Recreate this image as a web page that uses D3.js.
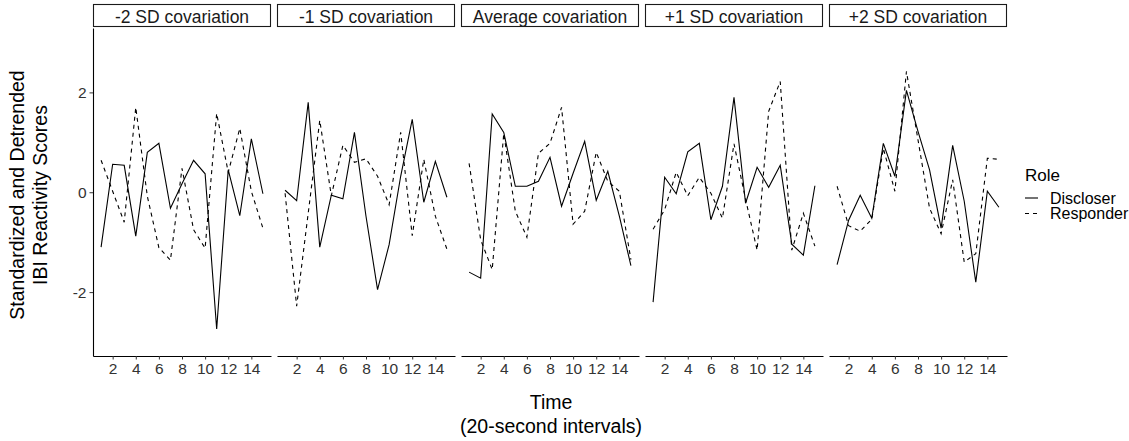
<!DOCTYPE html>
<html>
<head>
<meta charset="utf-8">
<script src="https://cdn.jsdelivr.net/npm/d3@7"></script>
<style>
  body { margin: 0; background: #fff; }
  svg { font-family: "Liberation Sans", Arial, sans-serif; }
</style>
</head>
<body>
<div id="wrapper"></div>
<script>
const panels = ["-2 SD covariation", "-1 SD covariation", "Average covariation", "+1 SD covariation", "+2 SD covariation"];
const times = d3.range(1, 16);
const roles = ["Discloser", "Responder"];

const discloser = [
  [-1.10, 0.56, 0.54, -0.88, 0.80, 0.98, -0.32, 0.17, 0.64, 0.37, -2.74, 0.45, -0.47, 1.07, -0.03],
  [0.04, -0.17, 1.80, -1.10, -0.06, -0.13, 1.20, -0.48, -1.95, -1.05, 0.32, 1.46, -0.20, 0.62, -0.10],
  [-1.60, -1.72, 1.57, 1.20, 0.12, 0.12, 0.22, 0.70, -0.28, 0.38, 1.02, -0.16, 0.42, -0.48, -1.47],
  [-2.20, 0.30, -0.03, 0.81, 0.98, -0.55, 0.12, 1.90, -0.22, 0.50, 0.10, 0.54, -1.04, -1.26, 0.13],
  [-1.45, -0.56, -0.06, -0.52, 0.98, 0.32, 2.04, 1.22, 0.45, -0.72, 0.94, -0.18, -1.80, 0.02, -0.30],
];
const responder = [
  [0.64, 0.02, -0.60, 1.70, -0.08, -1.11, -1.36, 0.48, -0.75, -1.12, 1.58, 0.40, 1.28, 0.02, -0.72],
  [-0.02, -2.28, -0.42, 1.44, -0.07, 0.94, 0.60, 0.67, 0.32, -0.25, 1.20, -0.87, 0.66, -0.48, -1.14],
  [0.58, -0.95, -1.55, 1.18, -0.38, -0.90, 0.78, 0.98, 1.70, -0.64, -0.38, 0.80, 0.22, 0.02, -1.35],
  [-0.74, -0.35, 0.40, -0.07, 0.30, -0.02, -0.52, 0.97, -0.14, -1.16, 1.62, 2.22, -1.16, -0.42, -1.08],
  [0.12, -0.67, -0.78, -0.54, 0.88, 0.02, 2.42, 1.05, -0.32, -0.83, 0.25, -1.40, -1.23, 0.68, 0.66],
];
const xTicks = [2, 4, 6, 8, 10, 12, 14];
const yTicks = [-2, 0, 2];

const width = 1129;
const height = 441;
const plotLeft = 93;
const panelW = 178;
const panelGap = 6;
const stripTop = 4;
const stripH = 23;
const plotTop = 28;
const plotBottom = 356;
const font = `"Liberation Sans", Arial, sans-serif`;

const svg = d3.select(`#wrapper`)
  .append(`svg`)
  .attr(`width`, width)
  .attr(`height`, height);

const xScale = d3.scaleLinear().domain([0.3, 15.7]).range([0, panelW]);
const yScale = d3.scaleLinear().domain([-3.28, 3.29]).range([plotBottom, plotTop]);

const line = d3.line()
  .x((d, i) => xScale(times[i]))
  .y(d => yScale(d));

panels.forEach((name, p) => {
  const x0 = plotLeft + p * (panelW + panelGap);
  const g = svg.append(`g`).attr(`transform`, `translate(${x0}, 0)`);

  // strip
  g.append(`rect`)
    .attr(`x`, 0.5).attr(`y`, stripTop + 0.5)
    .attr(`width`, panelW - 1).attr(`height`, stripH - 1)
    .attr(`fill`, `#fff`).attr(`stroke`, `#1a1a1a`).attr(`stroke-width`, 1.1);
  g.append(`text`)
    .attr(`x`, panelW / 2).attr(`y`, stripTop + stripH / 2 + 1)
    .attr(`text-anchor`, `middle`).attr(`dominant-baseline`, `central`)
    .attr(`font-size`, 17.5).attr(`fill`, `#1a1a1a`)
    .text(name);

  // x axis
  const xAxis = g.append(`g`)
    .attr(`transform`, `translate(0, ${plotBottom})`)
    .call(d3.axisBottom(xScale).tickValues(xTicks).tickSize(3.5).tickPadding(3).tickSizeOuter(0));
  xAxis.select(`.domain`).attr(`stroke`, `#000`).attr(`stroke-width`, 1.1);
  xAxis.selectAll(`.tick line`).attr(`stroke`, `#333`);
  xAxis.selectAll(`.tick text`).attr(`font-size`, 15.5).attr(`fill`, `#333`)
    .attr(`font-family`, font);

  if (p === 0) {
    const yAxis = g.append(`g`)
      .call(d3.axisLeft(yScale).tickValues(yTicks).tickFormat(d => String(d))
        .tickSize(3.5).tickPadding(3).tickSizeOuter(0));
    yAxis.select(`.domain`).attr(`stroke`, `#000`).attr(`stroke-width`, 1.1);
    yAxis.selectAll(`.tick line`).attr(`stroke`, `#333`);
    yAxis.selectAll(`.tick text`).attr(`font-size`, 15.5).attr(`fill`, `#333`)
      .attr(`font-family`, font);
  }

  g.append(`path`)
    .attr(`d`, line(discloser[p]))
    .attr(`fill`, `none`).attr(`stroke`, `#000`).attr(`stroke-width`, 1.1);
  g.append(`path`)
    .attr(`d`, line(responder[p]))
    .attr(`fill`, `none`).attr(`stroke`, `#000`).attr(`stroke-width`, 1.1)
    .attr(`stroke-dasharray`, `4,4`);
});

// axis titles
svg.append(`text`)
  .attr(`x`, 551).attr(`y`, 409)
  .attr(`text-anchor`, `middle`).attr(`font-size`, 19.5).attr(`fill`, `#000`)
  .text(`Time`);
svg.append(`text`)
  .attr(`x`, 551).attr(`y`, 433)
  .attr(`text-anchor`, `middle`).attr(`font-size`, 19.5).attr(`fill`, `#000`)
  .text(`(20-second intervals)`);

const yTitle = svg.append(`text`)
  .attr(`transform`, `translate(0, 195) rotate(-90)`)
  .attr(`text-anchor`, `middle`).attr(`font-size`, 19.5).attr(`fill`, `#000`);
yTitle.append(`tspan`).attr(`x`, 0).attr(`y`, 24).text(`Standardized and Detrended`);
yTitle.append(`tspan`).attr(`x`, 0).attr(`y`, 47).text(`IBI Reactivity Scores`);

// legend
const legend = svg.append(`g`).attr(`transform`, `translate(1025, 0)`);
legend.append(`text`)
  .attr(`x`, 0).attr(`y`, 181)
  .attr(`font-size`, 17).attr(`fill`, `#000`)
  .text(`Role`);
roles.forEach((r, i) => {
  const y = 198 + i * 15.5;
  legend.append(`line`)
    .attr(`x1`, 0).attr(`x2`, 13).attr(`y1`, y).attr(`y2`, y)
    .attr(`stroke`, `#000`).attr(`stroke-width`, 1.1)
    .attr(`stroke-dasharray`, i === 1 ? `4,4` : null);
  legend.append(`text`)
    .attr(`x`, 25).attr(`y`, y)
    .attr(`dominant-baseline`, `central`)
    .attr(`font-size`, 16).attr(`fill`, `#000`)
    .text(r);
});
</script>
</body>
</html>
